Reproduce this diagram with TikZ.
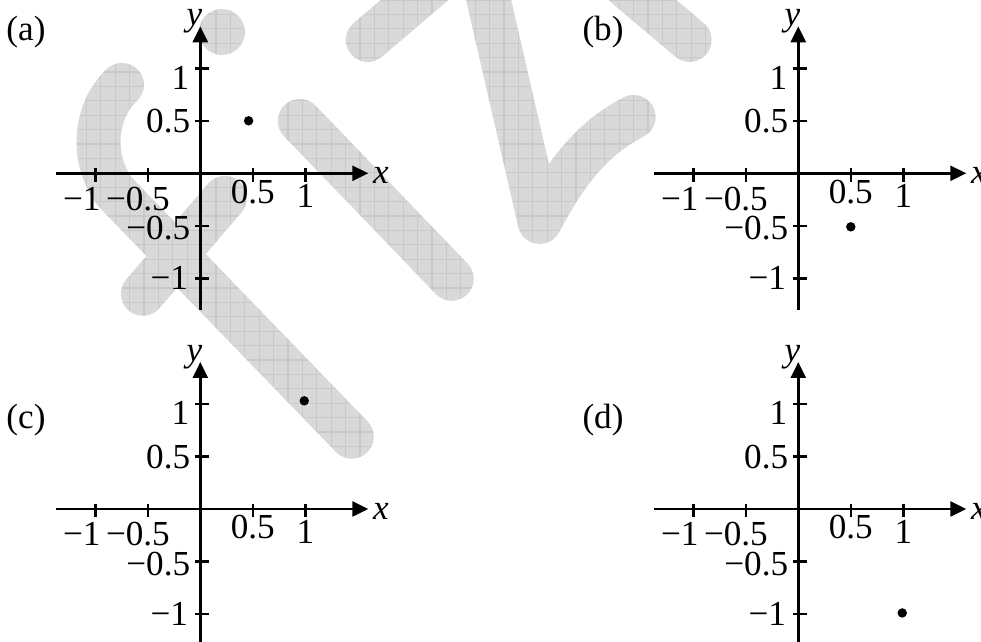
\documentclass[tikz,border=0pt]{standalone}
\usepackage{fontspec}
\setmainfont{Liberation Serif}
\usetikzlibrary{arrows.meta}
\tikzset{
  axisline/.style={line width=0.7pt, -{Triangle[length=0.16cm,width=0.15cm]}},
  tickline/.style={line width=0.7pt},
  lbl/.style={inner sep=0pt, font=\fontsize{10}{12}\selectfont},
  wm/.style={line width=0.44cm, line cap=round, line join=round, draw=black!15},
  wmgrid/.style={line width=0.3pt, draw=black!30},
}
\newcommand\mypanel[3]{%
  \coordinate (#1xs) at (-1.37,0);
  \coordinate (#1xe) at (1.6,0);
  \coordinate (#1ys) at (0,-1.3);
  \coordinate (#1ye) at (0,1.4);
  \draw[axisline] (#1xs) -- (#1xe);
  \draw[axisline] (#1ys) -- (#1ye);
  \foreach \t in {-1,-0.5,0.5,1} {
    \draw[tickline] (\t,0.05) -- (\t,-0.08);
    \draw[tickline] (-0.055,\t) -- (0.08,\t);
  }
  \node[lbl, anchor=base] (#1xa) at (-1.035,-0.35) {\llap{−}1};
  \node[lbl, anchor=base] (#1xb) at (-0.5,-0.35) {\llap{−}0.5};
  \node[lbl, anchor=base] (#1xc) at (0.5,-0.285) {0.5};
  \node[lbl, anchor=base] (#1xd) at (1,-0.325) {1};
  \node[lbl, anchor=base east] (#1ya) at (-0.1,0.8) {1};
  \node[lbl, anchor=base east] (#1yb) at (-0.09,0.385) {0.5};
  \node[lbl, anchor=base east] (#1yc) at (-0.09,-0.635) {−0.5};
  \node[lbl, anchor=base east] (#1yd) at (-0.11,-1.11) {−1};
  \fill (#2,#3) circle (0.045);
  \node[lbl] (#1xl) at (1.72,-0.02) {\textit{x}};
  \node[lbl] (#1yl) at (-0.055,1.45) {\textit{y}};
}
\begin{document}
\begin{tikzpicture}
\useasboundingbox (0,0) rectangle (9.81,-6.42);
\clip (0,0) rectangle (9.81,-6.42);
\fill[white] (0,0) rectangle (9.81,-6.42);
% watermark
\begin{scope}[x=0.01cm, y=-0.01cm]
  \draw[wm] (122,85) .. controls (97,108) and (88,155) .. (115,192) -- (352,437);
  \draw[wm] (143,294) -- (225,198);
  \draw[wm] (300,121) -- (452,279);
  \fill[black!15] (222,32) circle (0.23cm);
  \draw[wm] (368,40) -- (450,-30);
  \draw[wm] (482,-30) -- (540,222) .. controls (565,175) and (590,140) .. (634,117);
  \draw[wm] (625,-15) -- (690,40);
\end{scope}
\begin{scope}[blend mode=color burn]
  \draw[wmgrid, step=0.144] (0,0) grid (9.81,-6.42);
\end{scope}
% panel labels
\node[lbl] (la) at (0.26,-0.325) {(a)};
\node[lbl] (lb) at (6.03,-0.325) {(b)};
\node[lbl] (lc) at (0.26,-4.2) {(c)};
\node[lbl] (ld) at (6.03,-4.2) {(d)};
\begin{scope}[shift={(2.003cm,-1.733cm)}, x=1.05cm, y=1.05cm]
  \mypanel{a}{0.46}{0.5}
\end{scope}
\begin{scope}[shift={(7.983cm,-1.733cm)}, x=1.05cm, y=1.05cm]
  \mypanel{b}{0.5}{-0.51}
\end{scope}
\begin{scope}[shift={(2.003cm,-5.09cm)}, x=1.05cm, y=1.05cm]
  \mypanel{c}{0.99}{1.03}
\end{scope}
\begin{scope}[shift={(7.983cm,-5.09cm)}, x=1.05cm, y=1.05cm]
  \mypanel{d}{0.99}{-0.99}
\end{scope}
\end{tikzpicture}
\end{document}
